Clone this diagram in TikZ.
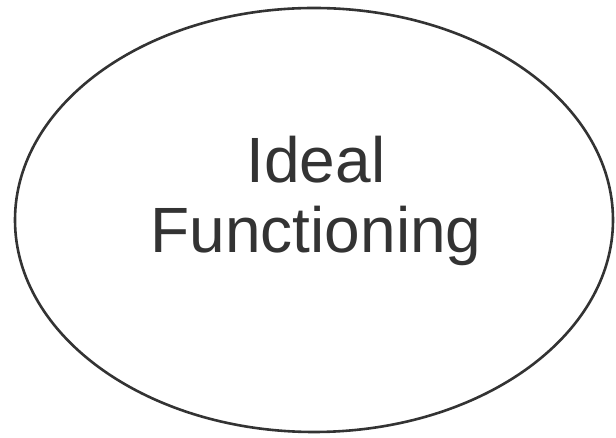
\documentclass[tikz,border=0pt]{standalone}
\usepackage{fontspec}
\setmainfont{Liberation Sans}
\begin{document}
\begin{tikzpicture}[x=1pt,y=1pt,
  outline/.style={draw=black!80, line width=2.6pt},
  label/.style={text=black!80, font=\fontsize{64}{70}\selectfont, inner sep=0pt, anchor=base}]
\useasboundingbox (0,0) rectangle (616,438);
\draw[outline] (314,218) ellipse [x radius=299, y radius=212];
\node[label] (l1) at (316,255) {Ideal};
\node[label] (l2) at (316,185) {Functioning};
\end{tikzpicture}
\end{document}
